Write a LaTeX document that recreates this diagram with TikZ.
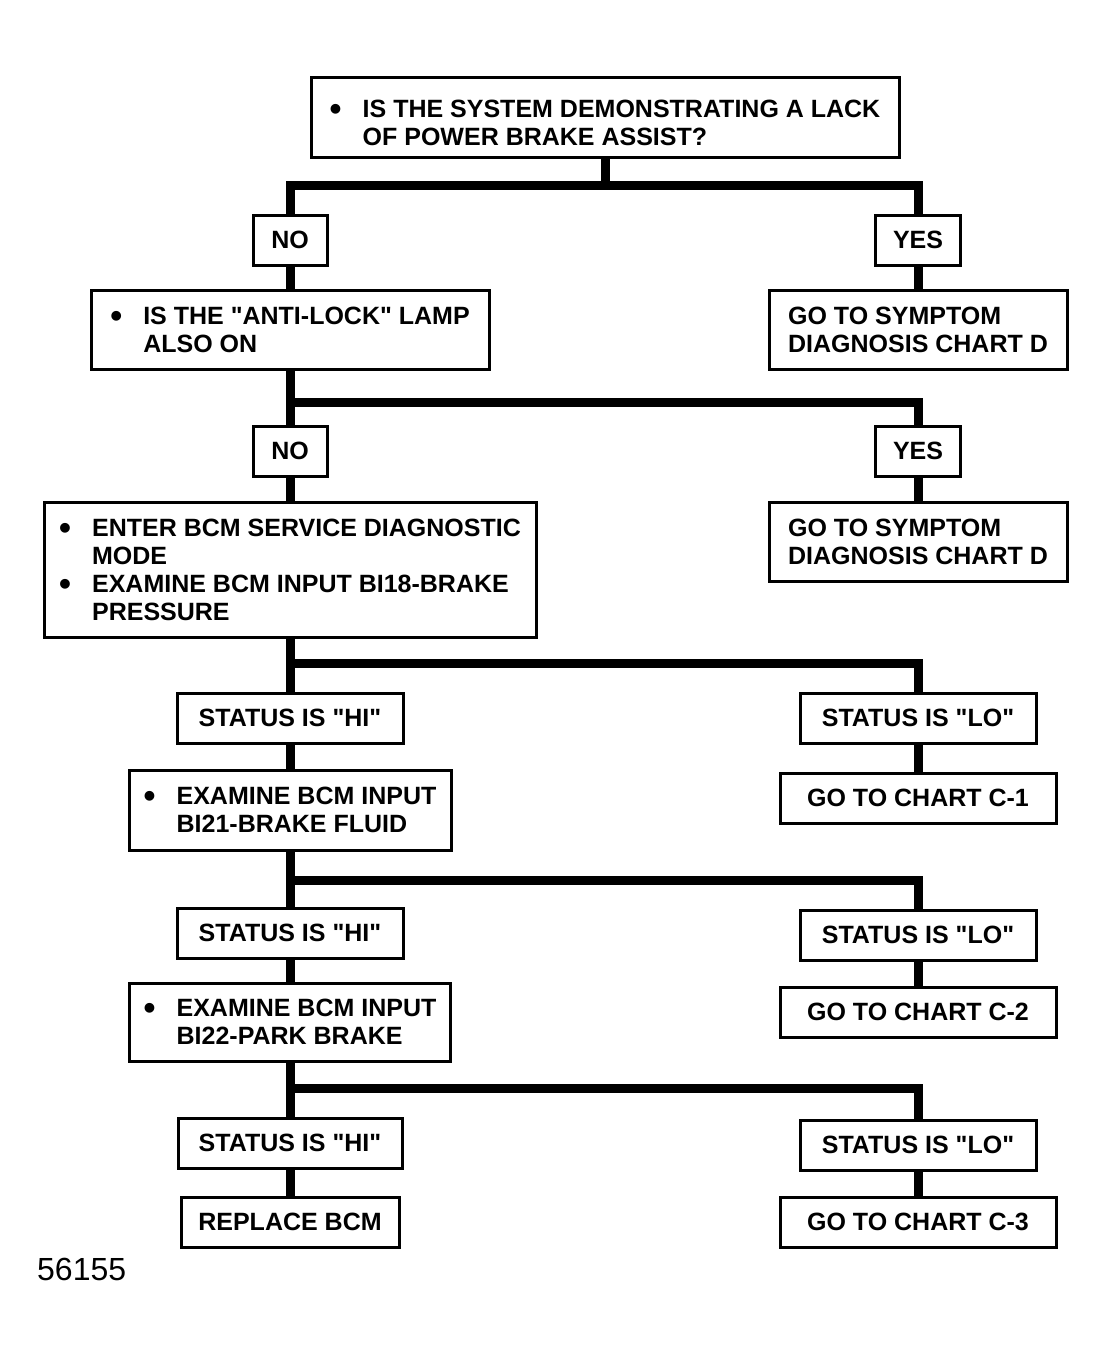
\documentclass[tikz,border=0pt]{standalone}
\usepackage{fontspec}
\setmainfont{Liberation Sans}
\usepackage{tikz}
\newcommand{\leftx}{290}
\newcommand{\rightx}{918}
\newcommand{\boxfont}{\bfseries\fontsize{25}{28}\selectfont}
\newcommand{\bul}{\makebox[33pt][l]{\raisebox{-3pt}{\fontsize{34}{28}\selectfont\textbullet}}}
\newcommand{\ind}{\hspace*{33pt}}
\newcommand{\qt}{\textquotedbl}

\begin{document}
\begin{tikzpicture}[x=1pt, y=-1pt,
    box/.style={draw, line width=3pt, inner xsep=8pt, inner ysep=0pt, font=\boxfont},
    textbox/.style={box, align=left},
    tag/.style={box, align=center, minimum height=50pt},
    link/.style={line width=9pt}]
    \useasboundingbox (0,0) rectangle (1107,1354);

    % question boxes
    \node [textbox, minimum width=588pt, minimum height=80pt] (q1) at (605,117) {\rule{0pt}{30pt}\bul IS THE SYSTEM DEMONSTRATING A LACK\\\ind OF POWER BRAKE ASSIST?};
    \node [textbox, minimum width=398pt, minimum height=79pt] (q2) at (\leftx,329.5) {\bul IS THE \qt ANTI-LOCK\qt{} LAMP\\\ind ALSO ON};
    \node [textbox, minimum width=492pt, minimum height=135pt] (q3) at (\leftx,569.5) {\bul ENTER BCM SERVICE DIAGNOSTIC\\\ind MODE\\\bul EXAMINE BCM INPUT BI18-BRAKE\\\ind PRESSURE};
    \node [textbox, minimum width=322pt, minimum height=80pt] (q4) at (\leftx,810) {\bul EXAMINE BCM INPUT\\\ind BI21-BRAKE FLUID};
    \node [textbox, minimum width=321pt, minimum height=78pt] (q5) at (\leftx,1022) {\bul EXAMINE BCM INPUT\\\ind BI22-PARK BRAKE};

    % answers
    \node [tag, minimum width=74pt] (no1) at (\leftx,240) {NO};
    \node [tag, minimum width=85pt] (yes1) at (\rightx,240) {YES};
    \node [tag, minimum width=74pt] (no2) at (\leftx,451) {NO};
    \node [tag, minimum width=85pt] (yes2) at (\rightx,451) {YES};
    \node [tag, minimum width=226pt] (hi1) at (\leftx,718) {STATUS IS \qt HI\qt};
    \node [tag, minimum width=236pt] (lo1) at (\rightx,718) {STATUS IS \qt LO\qt};
    \node [tag, minimum width=226pt] (hi2) at (\leftx,933) {STATUS IS \qt HI\qt};
    \node [tag, minimum width=236pt] (lo2) at (\rightx,935) {STATUS IS \qt LO\qt};
    \node [tag, minimum width=224pt] (hi3) at (\leftx,1143) {STATUS IS \qt HI\qt};
    \node [tag, minimum width=236pt] (lo3) at (\rightx,1145) {STATUS IS \qt LO\qt};

    % results
    \node [textbox, minimum width=298pt, minimum height=79pt] (chd1) at (\rightx,329.5) {GO TO SYMPTOM\\DIAGNOSIS CHART D};
    \node [textbox, minimum width=298pt, minimum height=79pt] (chd2) at (\rightx,541.5) {GO TO SYMPTOM\\DIAGNOSIS CHART D};
    \node [tag, minimum width=276pt] (c1) at (\rightx,798) {GO TO CHART C-1};
    \node [tag, minimum width=276pt] (c2) at (\rightx,1012) {GO TO CHART C-2};
    \node [tag, minimum width=276pt] (c3) at (\rightx,1222) {GO TO CHART C-3};
    \node [tag, minimum width=218pt] (rep) at (\leftx,1222) {REPLACE BCM};

    % branch points
    \coordinate (j1) at (605,185);
    \coordinate (j2) at (\leftx,402);
    \coordinate (j3) at (\leftx,663);
    \coordinate (j4) at (\leftx,880);
    \coordinate (j5) at (\leftx,1088);

    % connectors
    \draw [link] (q1.south) -- (j1);
    \draw [link] (no1.north) |- (j1) -| (yes1.north);
    \draw [link] (no1.south) -- (q2.north);
    \draw [link] (yes1.south) -- (chd1.north);
    \draw [link] (q2.south) -- (no2.north);
    \draw [link] (j2) -| (yes2.north);
    \draw [link] (no2.south) -- (q3.north);
    \draw [link] (yes2.south) -- (chd2.north);
    \draw [link] (q3.south) -- (hi1.north);
    \draw [link] (j3) -| (lo1.north);
    \draw [link] (hi1.south) -- (q4.north);
    \draw [link] (lo1.south) -- (c1.north);
    \draw [link] (q4.south) -- (hi2.north);
    \draw [link] (j4) -| (lo2.north);
    \draw [link] (hi2.south) -- (q5.north);
    \draw [link] (lo2.south) -- (c2.north);
    \draw [link] (q5.south) -- (hi3.north);
    \draw [link] (j5) -| (lo3.north);
    \draw [link] (hi3.south) -- (rep.north);
    \draw [link] (lo3.south) -- (c3.north);

    % figure number
    \node [anchor=base west, inner sep=0pt, font=\fontsize{32}{32}\selectfont] (fig) at (37,1280) {56155};
\end{tikzpicture}
\end{document}
